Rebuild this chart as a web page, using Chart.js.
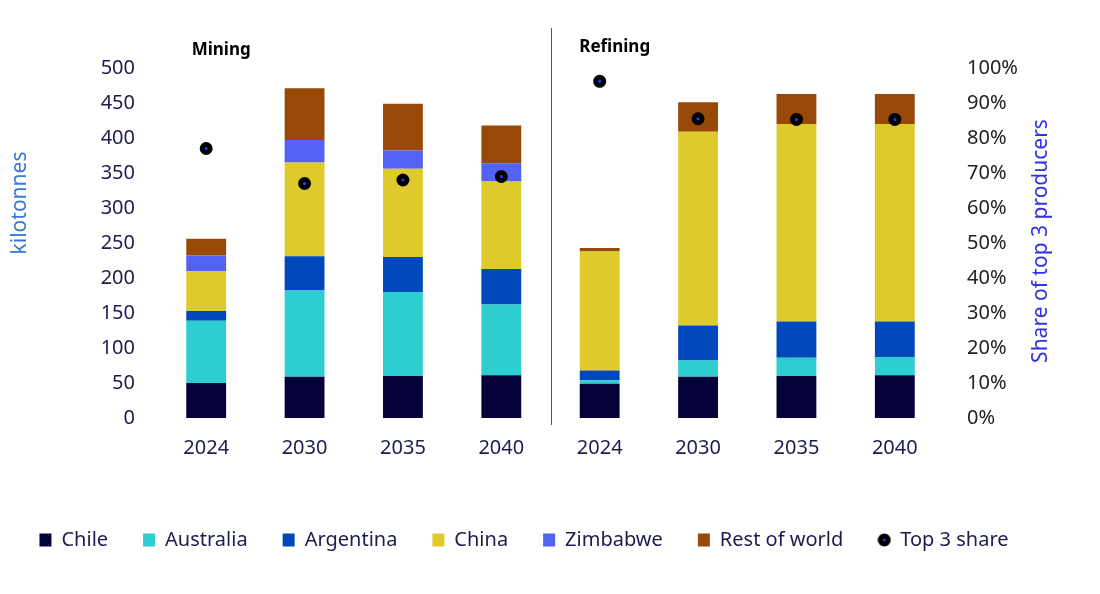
<!DOCTYPE html>
<html><head><meta charset="utf-8">
<script src="https://cdn.jsdelivr.net/npm/chart.js@4.4.1/dist/chart.umd.min.js"></script>
<style>html,body{margin:0;padding:0;background:#fff;}#wrap{width:1100px;height:594px;}</style>
</head><body><div id="wrap"><canvas id="c" width="1100" height="594"></canvas></div>
<script>
// ---- data ----
const categories = ['2024','2030','2035','2040','2024','2030','2035','2040'];
const groupLabels = ['Mining','Refining'];
const chile       = [50, 59, 60, 61, 49, 59, 60, 61];
const australia   = [89, 123, 120, 101, 5, 23, 26, 26];
const argentina   = [14, 49, 50, 51, 14, 50, 52, 51];
const china       = [57, 134, 126, 125, 170, 277, 282, 282];
const zimbabwe    = [22, 32, 26, 26, 0, 0, 0, 0];
const restOfWorld = [24, 74, 67, 54, 5, 42, 43, 43];
const top3Share   = [0.77, 0.67, 0.68, 0.69, 0.962, 0.855, 0.853, 0.853];
const leftAxis  = {min: 0, max: 500, step: 50, title: 'kilotonnes'};
const rightAxis = {min: 0, max: 1, step: 0.1, title: 'Share of top 3 producers'};

const FONT = "'Noto Sans', 'DejaVu Sans', sans-serif";
const NAVY = '#1c1c4e';
const LEGEND_SHIFT = -26;

function bar(label, data, color) {
  return {type: 'bar', label, data, backgroundColor: color, borderWidth: 0,
          stack: 's', yAxisID: 'y', order: 1, pointStyle: 'rect',
          barPercentage: 0.405, categoryPercentage: 1.0};
}

// legend dot image
const dot = document.createElement('canvas');
dot.width = 14; dot.height = 14;
(function(){ const g = dot.getContext('2d');
  g.beginPath(); g.arc(7,7,6.5,0,Math.PI*2); g.fillStyle='#000'; g.fill();
  g.beginPath(); g.arc(7,7,1.5,0,Math.PI*2); g.fillStyle='#2a3cff'; g.fill(); })();

const extras = {
  id: 'extras',
  afterLayout(chart) {
    if (chart.legend) { chart.legend.left += LEGEND_SHIFT; chart.legend.right += LEGEND_SHIFT; }
  },
  afterDatasetsDraw(chart) {
    const {ctx, chartArea, scales: {x}} = chart;
    ctx.save();
    const xm = (x.getPixelForValue(3) + x.getPixelForValue(4)) / 2;
    ctx.strokeStyle = '#555'; ctx.lineWidth = 1;
    ctx.beginPath(); ctx.moveTo(Math.round(xm) + 0.5, chartArea.top - 40);
    ctx.lineTo(Math.round(xm) + 0.5, chartArea.bottom + 7); ctx.stroke();
    ctx.fillStyle = '#000'; ctx.font = 'bold 17px ' + FONT;
    ctx.textAlign = 'center'; ctx.textBaseline = 'middle';
    ctx.fillText(groupLabels[0], x.getPixelForValue(0) + 15, chartArea.top - 18);
    ctx.fillText(groupLabels[1], x.getPixelForValue(4) + 15, chartArea.top - 21);
    // axis titles (both read bottom-to-top)
    const midY = (chartArea.top + chartArea.bottom) / 2;
    ctx.font = '21px ' + FONT;
    ctx.save(); ctx.translate(20, midY - 40); ctx.rotate(-Math.PI / 2);
    ctx.fillStyle = '#3a78d8'; ctx.fillText(leftAxis.title, 0, 0); ctx.restore();
    ctx.save(); ctx.translate(1041, midY - 2); ctx.rotate(-Math.PI / 2);
    ctx.fillStyle = '#3030e8'; ctx.fillText(rightAxis.title, 0, 0); ctx.restore();
    ctx.restore();
  }
};

new Chart(document.getElementById('c'), {
  type: 'bar',
  data: {
    labels: categories,
    datasets: [
      bar('Chile', chile, '#03003a'),
      bar('Australia', australia, '#2ecdd2'),
      bar('Argentina', argentina, '#0048bc'),
      bar('China', china, '#dfca2c'),
      bar('Zimbabwe', zimbabwe, '#5262f5'),
      bar('Rest of world', restOfWorld, '#994907'),
      {type: 'line', label: 'Top 3 share', data: top3Share, yAxisID: 'y1', showLine: false,
       order: 0, pointStyle: 'circle', pointRadius: 4, pointBorderWidth: 5,
       pointBackgroundColor: '#2a3cff', pointBorderColor: '#000',
       backgroundColor: '#000', borderColor: '#000'}
    ]
  },
  options: {
    responsive: false, animation: false, events: [],
    layout: {padding: {top: 68, bottom: 34, left: 0, right: 0}},
    plugins: {
      tooltip: {enabled: false},
      legend: {
        position: 'bottom',
        labels: {
          usePointStyle: true, pointStyleWidth: 12, boxHeight: 13,
          color: NAVY, font: {family: FONT, size: 20}, padding: 35,
          generateLabels(chart) {
            const items = Chart.defaults.plugins.legend.labels.generateLabels(chart);
            items.sort((a, b) => a.datasetIndex - b.datasetIndex);
            items.forEach(it => {
              if (it.text === 'Top 3 share') it.pointStyle = dot;
              else { it.pointStyle = 'rect'; it.lineWidth = 0; }
            });
            return items;
          }
        }
      }
    },
    scales: {
      x: {
        stacked: true,
        grid: {display: false, drawTicks: false}, border: {display: false},
        ticks: {color: NAVY, font: {family: FONT, size: 20}, padding: 18, maxRotation: 0},
        afterFit(s) { s.height = 77; }
      },
      y: {
        stacked: true, position: 'left', min: leftAxis.min, max: leftAxis.max,
        grid: {display: false, drawTicks: false}, border: {display: false},
        ticks: {stepSize: leftAxis.step, color: NAVY, font: {family: FONT, size: 20}, padding: 22},
        afterFit(s) { s.width = 157; }
      },
      y1: {
        position: 'right', min: rightAxis.min, max: rightAxis.max,
        grid: {display: false, drawTicks: false}, border: {display: false},
        ticks: {stepSize: rightAxis.step, color: '#222', font: {family: FONT, size: 20}, padding: 23,
                callback: v => Math.round(v * 100) + '%'},
        afterFit(s) { s.width = 156; }
      }
    }
  },
  plugins: [extras]
});
</script></body></html>
